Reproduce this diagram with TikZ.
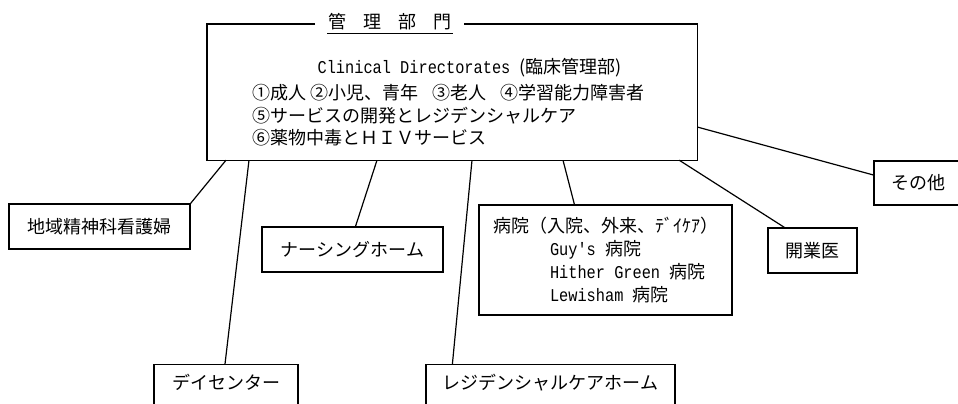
\documentclass[tikz,border=0pt]{standalone}
\usepackage{fontspec}
\setmainfont{Noto Sans CJK JP}
\setmonofont{Liberation Mono}[FakeStretch=0.85]
\usetikzlibrary{calc}
\begin{document}
\begin{tikzpicture}[x=1pt,y=-1pt,line width=1.2pt,
  box/.style={draw,rectangle,inner sep=0pt,font=\fontsize{18}{22}\selectfont},
  txt/.style={inner sep=0pt,font=\fontsize{18}{22}\selectfont},
  link/.style={draw,line width=1.2pt}]
\useasboundingbox (0,0) rectangle (958,404);
\clip (0,0) rectangle (958,404);
% main box
\node[minimum width=489pt,minimum height=135pt,anchor=north west,inner sep=0pt] (main) at (207,24) {};
\draw ($(main.north west)+(108,0)$) -- (main.north west) -- (main.south west)
  -- (main.south east) -- (main.north east) -- ($(main.north east)+(-233,0)$);
\node[txt] (title) at (390,22) {管\hspace{17pt}理\hspace{17pt}部\hspace{17pt}門};
\draw[line width=0.9pt] (327,33) -- (453,33);
\node[txt,anchor=west] (l1) at (317,68) {\ttfamily Clinical Directorates \rmfamily(臨床管理部)};
\node[txt,anchor=west] (l2) at (252,93) {①成人 ②小児、青年\hspace{14pt}③老人\hspace{14pt}④学習能力障害者};
\node[txt,anchor=west] (l3) at (252,116) {⑤サービスの開発とレジデンシャルケア};
\node[txt,anchor=west] (l4) at (252,138) {⑥薬物中毒とＨＩＶサービス};
% children
\node[box,minimum width=181pt,minimum height=45pt] (chiiki) at (99.5,226.5) {地域精神科看護婦};
\node[box,minimum width=144pt,anchor=north,text height=13pt,text depth=40pt,inner ysep=12pt] (day) at (226,364) {デイセンター};
\node[box,minimum width=181pt,minimum height=45pt] (nursing) at (352.5,249.5) {ナーシングホーム};
\node[box,minimum width=249pt,anchor=north,text height=13pt,text depth=40pt,inner ysep=12pt] (resi) at (550.5,364) {レジデンシャルケアホーム};
\node[box,minimum width=253pt,minimum height=110pt,align=left,font=\fontsize{18}{22.7}\selectfont] (byoin) at (605.5,260)
  {病院（入院、外来、ﾃﾞｲｹｱ）\\
   \hspace{57pt}\ttfamily Guy's \rmfamily 病院\\
   \hspace{57pt}\ttfamily Hither Green \rmfamily 病院\\
   \hspace{57pt}\ttfamily Lewisham \rmfamily 病院};
\node[box,minimum width=89pt,minimum height=45pt] (kaigyoi) at (812.5,250.5) {開業医};
\node[box,minimum width=88pt,minimum height=44pt] (sonota) at (918,183) {その他};
% connectors
\draw[link] (chiiki.north east) -- ($(main.south west)+(19,0)$);
\draw[link] ($(day.north)+(-1,0)$) -- ($(main.south west)+(42,0)$);
\draw[link] ($(nursing.north)+(3,0)$) -- ($(main.south west)+(170,0)$);
\draw[link] ($(resi.north west)+(27,0)$) -- ($(main.south west)+(265,0)$);
\draw[link] ($(byoin.north west)+(96,0)$) -- ($(main.south west)+(356,0)$);
\draw[link] ($(kaigyoi.north west)+(17,0)$) -- ($(main.south east)+(-18,0)$);
\draw[link] ($(sonota.west)+(0,-8)$) -- ($(main.north east)+(0,103)$);
\end{tikzpicture}
\end{document}
